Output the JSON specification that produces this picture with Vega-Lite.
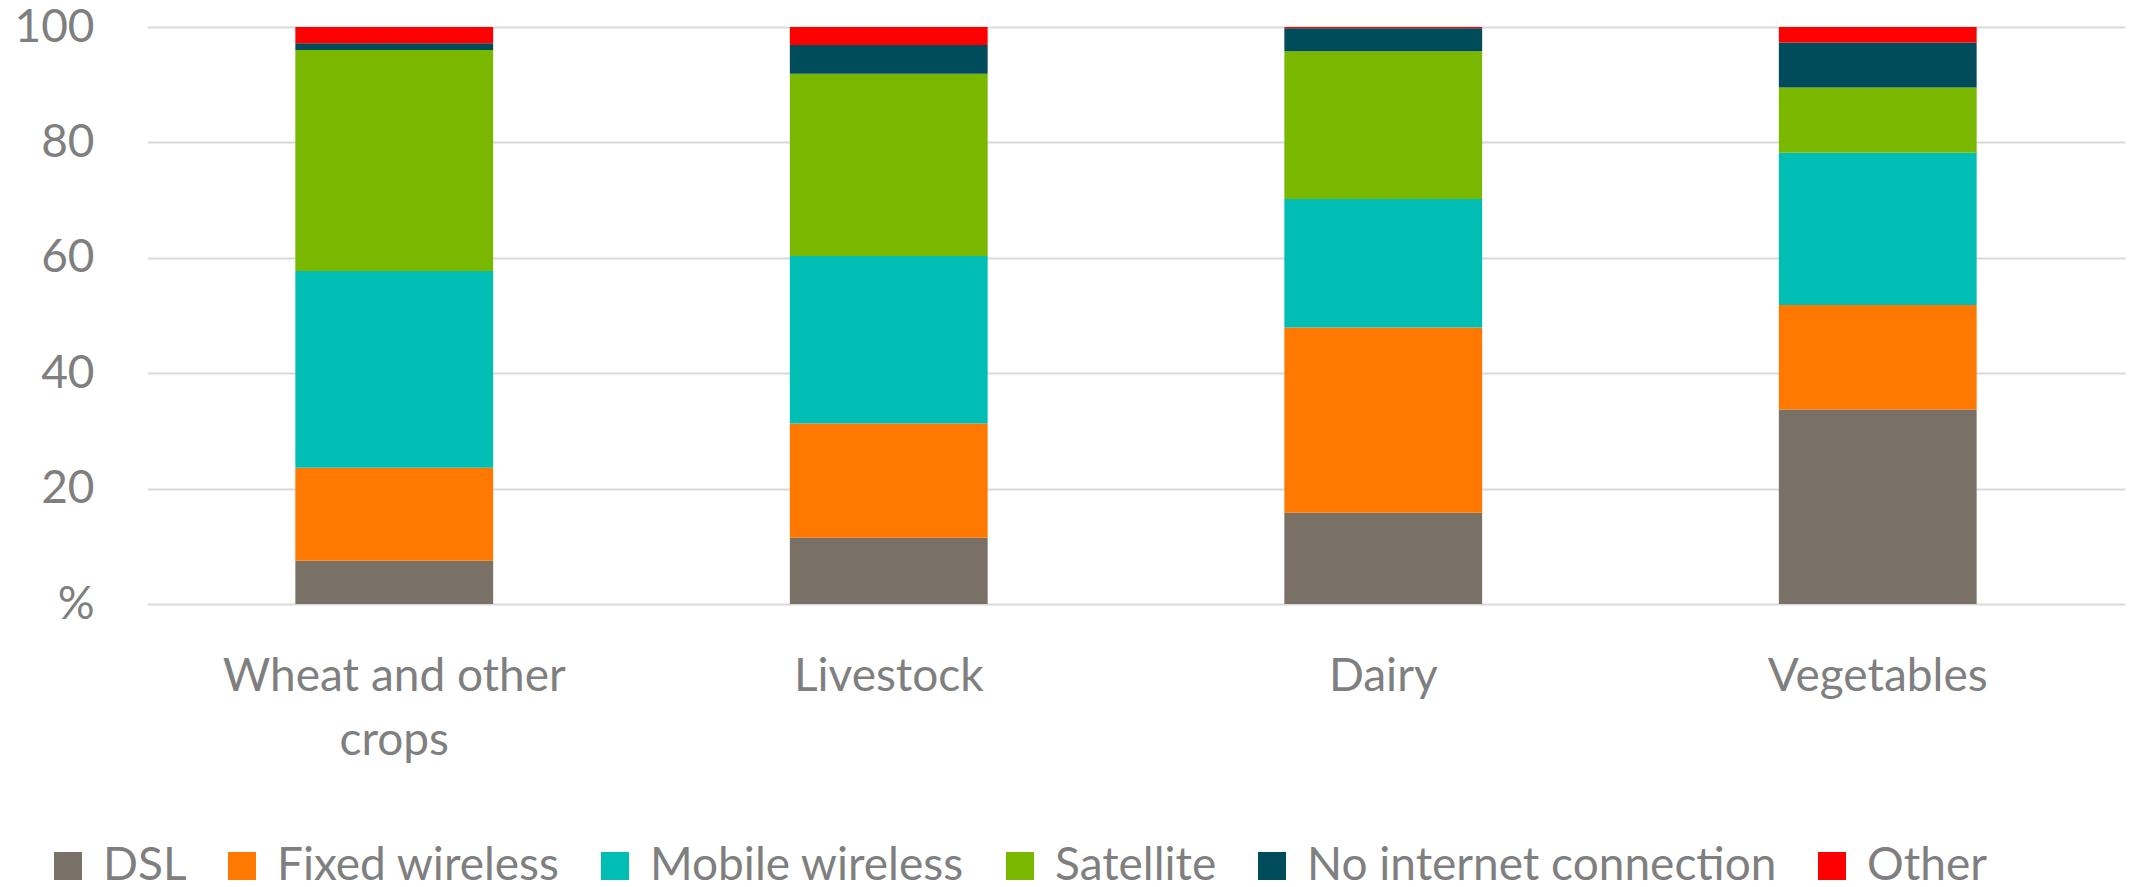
{
  "$schema": "https://vega.github.io/schema/vega-lite/v6.json",
  "autosize": "none",
  "width": 1978,
  "height": 577,
  "padding": {"left": 147, "top": 27, "right": 8, "bottom": 283},
  "background": "white",
  "config": {
    "view": {"stroke": null},
    "font": "Lato"
  },
  "data": {
    "values": [
      {"sector": "Wheat and other crops", "type": "DSL", "k": 1, "pct": 7.5},
      {"sector": "Wheat and other crops", "type": "Fixed wireless", "k": 2, "pct": 16.1},
      {"sector": "Wheat and other crops", "type": "Mobile wireless", "k": 3, "pct": 34.1},
      {"sector": "Wheat and other crops", "type": "Satellite", "k": 4, "pct": 38.3},
      {"sector": "Wheat and other crops", "type": "No internet connection", "k": 5, "pct": 1.2},
      {"sector": "Wheat and other crops", "type": "Other", "k": 6, "pct": 2.8},
      {"sector": "Livestock", "type": "DSL", "k": 1, "pct": 11.5},
      {"sector": "Livestock", "type": "Fixed wireless", "k": 2, "pct": 19.8},
      {"sector": "Livestock", "type": "Mobile wireless", "k": 3, "pct": 29.0},
      {"sector": "Livestock", "type": "Satellite", "k": 4, "pct": 31.6},
      {"sector": "Livestock", "type": "No internet connection", "k": 5, "pct": 5.0},
      {"sector": "Livestock", "type": "Other", "k": 6, "pct": 3.1},
      {"sector": "Dairy", "type": "DSL", "k": 1, "pct": 15.8},
      {"sector": "Dairy", "type": "Fixed wireless", "k": 2, "pct": 32.1},
      {"sector": "Dairy", "type": "Mobile wireless", "k": 3, "pct": 22.3},
      {"sector": "Dairy", "type": "Satellite", "k": 4, "pct": 25.6},
      {"sector": "Dairy", "type": "No internet connection", "k": 5, "pct": 4.0},
      {"sector": "Dairy", "type": "Other", "k": 6, "pct": 0.2},
      {"sector": "Vegetables", "type": "DSL", "k": 1, "pct": 33.7},
      {"sector": "Vegetables", "type": "Fixed wireless", "k": 2, "pct": 18.1},
      {"sector": "Vegetables", "type": "Mobile wireless", "k": 3, "pct": 26.4},
      {"sector": "Vegetables", "type": "Satellite", "k": 4, "pct": 11.3},
      {"sector": "Vegetables", "type": "No internet connection", "k": 5, "pct": 7.8},
      {"sector": "Vegetables", "type": "Other", "k": 6, "pct": 2.7}
    ]
  },
  "mark": {"type": "bar"},
  "encoding": {
    "x": {
      "field": "sector",
      "type": "nominal",
      "sort": ["Wheat and other crops", "Livestock", "Dairy", "Vegetables"],
      "scale": {"paddingInner": 0.6, "paddingOuter": 0.3},
      "axis": {
        "title": null,
        "labelAngle": 0,
        "domain": false,
        "ticks": false,
        "tickSize": 0,
        "labelFontSize": 46,
        "labelColor": "#7F7F7F",
        "labelPadding": 50,
        "labelLineHeight": 64,
        "labelLimit": 800,
        "labelExpr": "datum.value == 'Wheat and other crops' ? ['Wheat and other', 'crops'] : datum.label"
      }
    },
    "y": {
      "field": "pct",
      "type": "quantitative",
      "stack": "zero",
      "scale": {"domain": [0, 100], "nice": false},
      "axis": {
        "title": null,
        "values": [0, 20, 40, 60, 80, 100],
        "domain": false,
        "ticks": false,
        "tickSize": 0,
        "labelFontSize": 46,
        "labelColor": "#7F7F7F",
        "labelPadding": 53,
        "labelLimit": 400,
        "gridColor": "#D9D9D9",
        "gridWidth": 2,
        "labelExpr": "datum.value == 0 ? '%' : datum.label"
      }
    },
    "color": {
      "field": "type",
      "type": "nominal",
      "scale": {
        "domain": ["DSL", "Fixed wireless", "Mobile wireless", "Satellite", "No internet connection", "Other"],
        "range": ["#797066", "#FF7900", "#00BEB4", "#7AB800", "#004C5A", "#FF0000"]
      },
      "legend": {
        "title": null,
        "orient": "none",
        "direction": "horizontal",
        "legendX": -102,
        "legendY": 816,
        "symbolType": "square",
        "symbolSize": 784,
        "symbolStrokeWidth": 0,
        "labelFontSize": 46,
        "labelColor": "#7F7F7F",
        "labelOffset": 12,
        "columnPadding": 32,
        "padding": 0,
        "labelLimit": 1000
      }
    },
    "order": {"field": "k", "type": "quantitative", "sort": "ascending"}
  }
}
